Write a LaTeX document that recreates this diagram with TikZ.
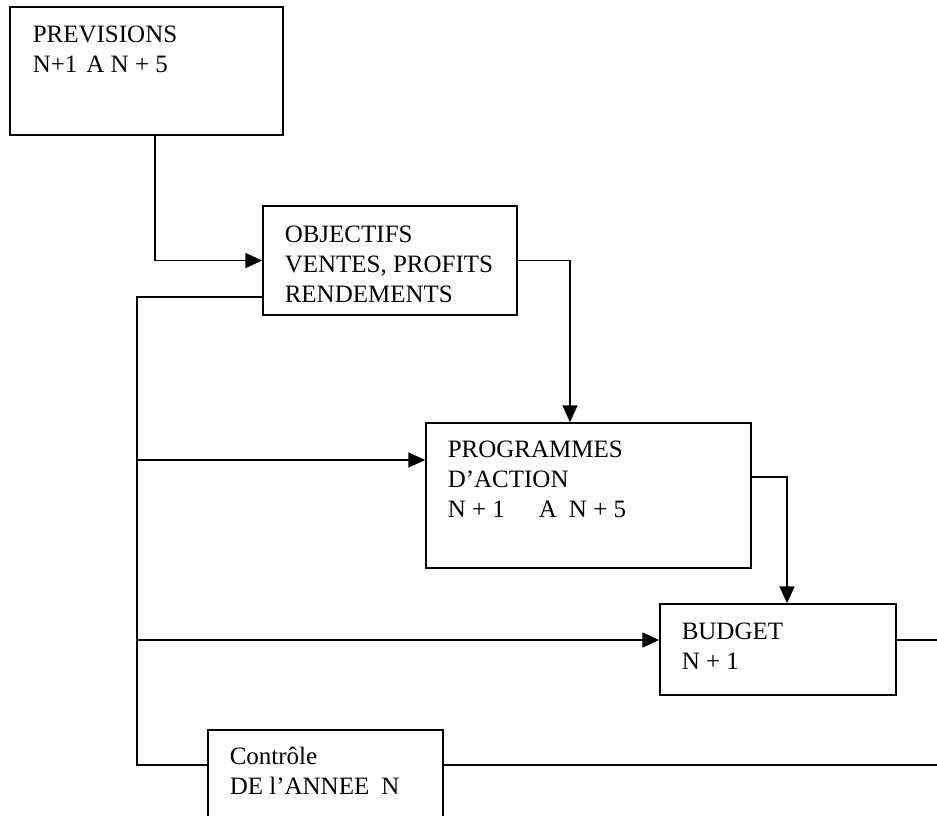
\documentclass[tikz,border=0pt]{standalone}
\usepackage{fontspec}
\setmainfont{Liberation Serif}
\usetikzlibrary{arrows.meta}

\begin{document}
\begin{tikzpicture}[x=1pt,y=-1pt,line width=1.5pt,
    flow/.style={-{Triangle[length=17pt,width=15pt]}}]

  \useasboundingbox (0,0) rectangle (937,815);

  \begin{scope}[every node/.style={draw,rectangle,inner sep=0pt}]
    \node[minimum width=273pt,minimum height=128pt] (prev) at (146.5,71)  {};
    \node[minimum width=254pt,minimum height=109pt] (obj)  at (390,260.5) {};
    \node[minimum width=325pt,minimum height=145pt] (prog) at (588.5,495.5) {};
    \node[minimum width=236pt,minimum height=91pt]  (bud)  at (778,649.5) {};
    \node[minimum width=235pt,minimum height=110pt] (ctrl) at (325.5,785) {};
  \end{scope}

  \begin{scope}[every node/.style={anchor=north west,align=left,inner sep=0pt,
      font=\fontsize{25}{30}\selectfont}]
    \node (prevtext) at (32,25)  {PREVISIONS\\N+1\hspace{9pt}A N + 5};
    \node (objtext)  at (284,225) {OBJECTIFS\\VENTES, PROFITS\\RENDEMENTS};
    \node (progtext) at (447,440) {PROGRAMMES\\D’ACTION\\N + 1\hspace{34pt}A\hspace{12pt}N + 5};
    \node (budtext)  at (681,622) {BUDGET\\N + 1};
    \node (ctrltext) at (229,746) {Contrôle\\DE l’ANNEE\hspace{12pt}N};
  \end{scope}

  % points of the return line
  \coordinate (jtop)  at (137,297);
  \coordinate (jprog) at (137,460);
  \coordinate (jbud)  at (137,640);
  \coordinate (jbot)  at (137,765);
  \coordinate (outbud)  at (937,640);
  \coordinate (outctrl) at (937,765);

  \draw[flow] ([xshift=8.5pt]prev.south) |- (obj.west);
  \draw[flow] (obj.east) -| ([xshift=-18.5pt]prog.north);
  \draw[flow] ([yshift=18.5pt]prog.east) -| ([xshift=9pt]bud.north);
  \draw ([yshift=9.5pt]bud.east) -- (outbud);

  \draw (obj.west |- jtop) -- (jtop) -- (jbot) -- (ctrl.west |- jbot);
  \draw[flow] (jprog) -- (prog.west |- jprog);
  \draw[flow] (jbud) -- (bud.west |- jbud);
  \draw (ctrl.east |- jbot) -- (outctrl);

\end{tikzpicture}
\end{document}
